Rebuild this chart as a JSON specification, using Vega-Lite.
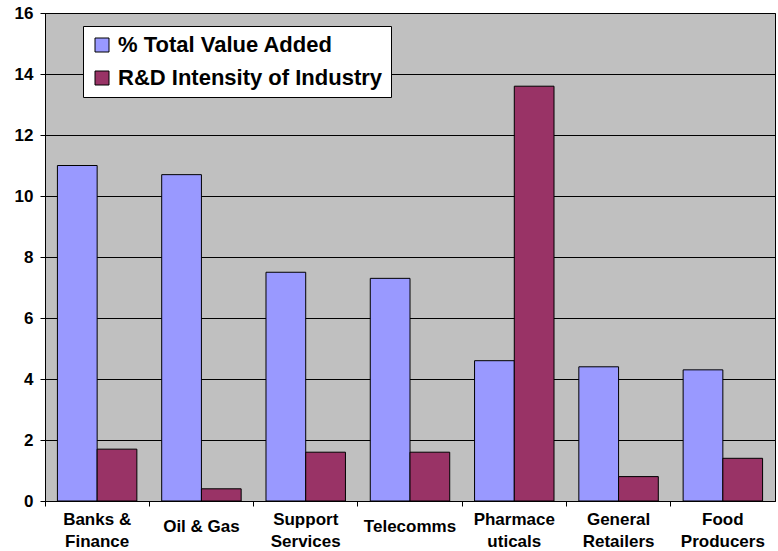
{
  "$schema": "https://vega.github.io/schema/vega-lite/v6.json",
  "width": 730,
  "height": 488,
  "autosize": {"type": "none"},
  "padding": {"left": 45, "top": 13, "right": 3, "bottom": 50},
  "background": "white",
  "config": {
    "view": {"fill": "#C0C0C0", "stroke": "black", "strokeWidth": 1},
    "font": "Liberation Sans"
  },
  "data": {
    "values": [
      {"industry": "Banks &|Finance", "series": "% Total Value Added", "value": 11.0},
      {"industry": "Banks &|Finance", "series": "R&D Intensity of Industry", "value": 1.7},
      {"industry": "Oil & Gas", "series": "% Total Value Added", "value": 10.7},
      {"industry": "Oil & Gas", "series": "R&D Intensity of Industry", "value": 0.4},
      {"industry": "Support|Services", "series": "% Total Value Added", "value": 7.5},
      {"industry": "Support|Services", "series": "R&D Intensity of Industry", "value": 1.6},
      {"industry": "Telecomms", "series": "% Total Value Added", "value": 7.3},
      {"industry": "Telecomms", "series": "R&D Intensity of Industry", "value": 1.6},
      {"industry": "Pharmace|uticals", "series": "% Total Value Added", "value": 4.6},
      {"industry": "Pharmace|uticals", "series": "R&D Intensity of Industry", "value": 13.6},
      {"industry": "General|Retailers", "series": "% Total Value Added", "value": 4.4},
      {"industry": "General|Retailers", "series": "R&D Intensity of Industry", "value": 0.8},
      {"industry": "Food|Producers", "series": "% Total Value Added", "value": 4.3},
      {"industry": "Food|Producers", "series": "R&D Intensity of Industry", "value": 1.4}
    ]
  },
  "mark": {"type": "bar", "stroke": "black", "strokeWidth": 1},
  "encoding": {
    "x": {
      "field": "industry",
      "type": "nominal",
      "sort": null,
      "scale": {"paddingInner": 0, "paddingOuter": 0},
      "axis": {
        "title": null,
        "labelAngle": 0,
        "labelExpr": "split(datum.label, '|')",
        "labelFont": "Liberation Sans",
        "labelFontWeight": "bold",
        "labelFontSize": 17,
        "labelColor": "black",
        "labelLineHeight": 22,
        "labelBaseline": "alphabetic",
        "labelAlign": "center",
        "labelPadding": {"condition": {"test": "indexof(datum.value, '|') >= 0", "value": 18}, "value": 25},
        "bandPosition": 0,
        "domainColor": "black",
        "domainWidth": 1,
        "tickColor": "black",
        "tickSize": 5,
        "tickWidth": 1,
        "grid": false,
        "labelOverlap": false,
        "labelBound": false
      }
    },
    "xOffset": {
      "field": "series",
      "type": "nominal",
      "scale": {"paddingInner": 0, "paddingOuter": 0.3125}
    },
    "y": {
      "field": "value",
      "type": "quantitative",
      "scale": {"domain": [0, 16], "nice": false},
      "axis": {
        "title": null,
        "values": [0, 2, 4, 6, 8, 10, 12, 14, 16],
        "labelFont": "Liberation Sans",
        "labelFontWeight": "bold",
        "labelFontSize": 17,
        "labelColor": "black",
        "labelPadding": 7,
        "domainColor": "black",
        "tickColor": "black",
        "tickSize": 5,
        "grid": true,
        "gridColor": "black",
        "gridWidth": 1,
        "gridOpacity": 1
      }
    },
    "color": {
      "field": "series",
      "type": "nominal",
      "scale": {
        "domain": ["% Total Value Added", "R&D Intensity of Industry"],
        "range": ["#9999FF", "#993366"]
      },
      "legend": {
        "title": null,
        "orient": "none",
        "legendX": 38,
        "legendY": 13,
        "fillColor": "white",
        "strokeColor": "black",
        "padding": 8,
        "symbolType": "square",
        "symbolSize": 196,
        "symbolStrokeColor": "black",
        "symbolStrokeWidth": 1,
        "symbolOpacity": 1,
        "labelFont": "Liberation Sans",
        "labelFontWeight": "bold",
        "labelFontSize": 22,
        "labelColor": "black",
        "labelOffset": 5,
        "labelLimit": 400,
        "rowPadding": 11
      }
    }
  }
}
